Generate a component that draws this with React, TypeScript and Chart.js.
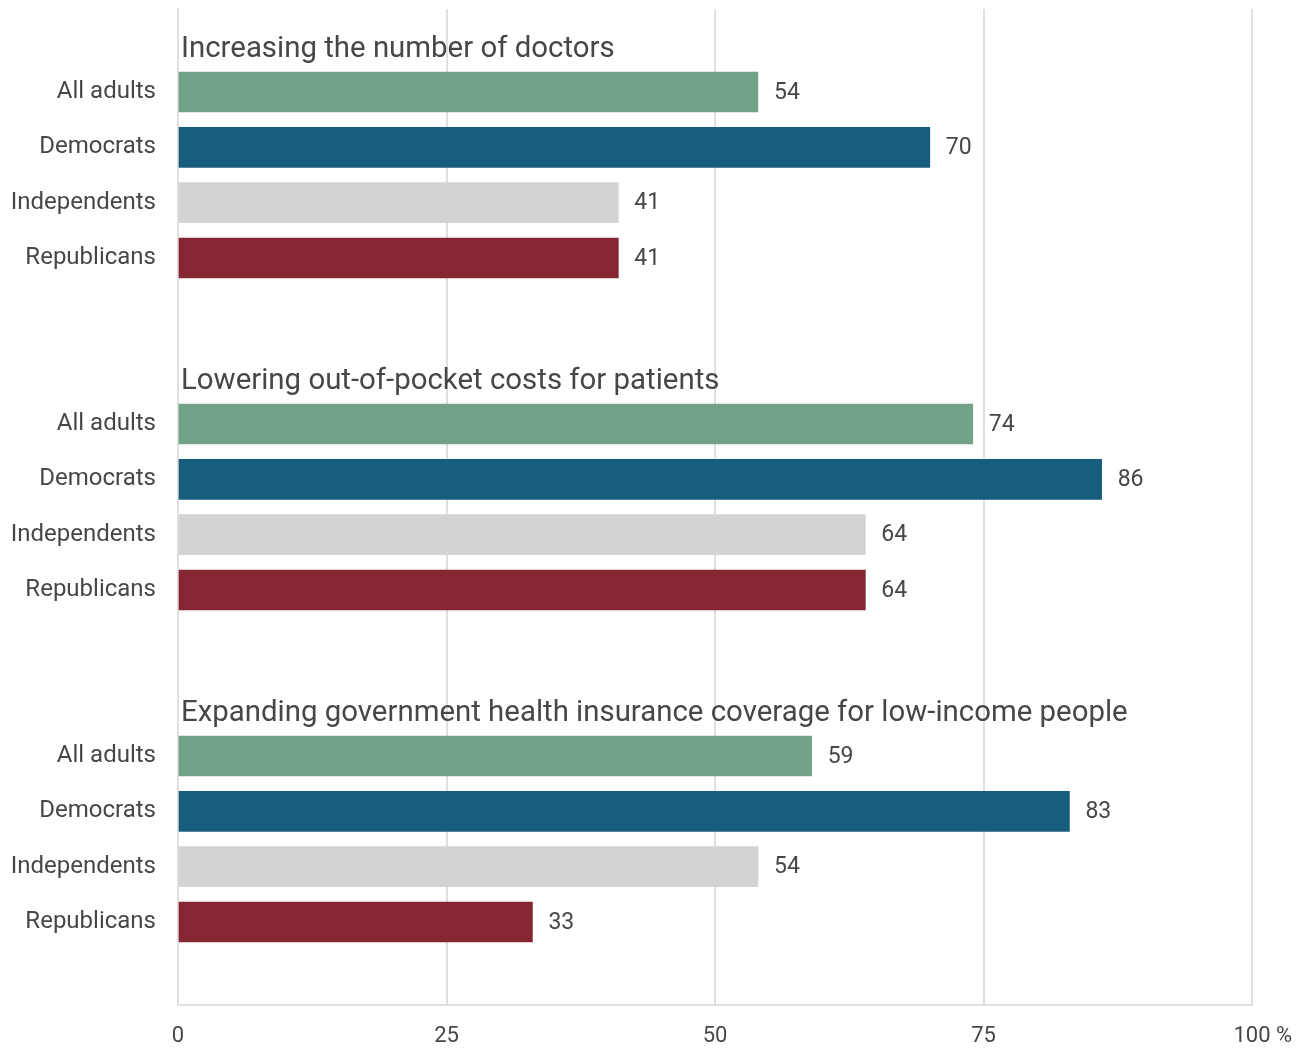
import React, { useEffect, useRef } from "react";
import { Chart, registerables } from "chart.js";

Chart.register(...registerables);

const groupTitles = [
  "Increasing the number of doctors",
  "Lowering out-of-pocket costs for patients",
  "Expanding government health insurance coverage for low-income people",
];
const subgroups = ["All adults", "Democrats", "Independents", "Republicans"];
const subgroupColors = ["#70a288", "#175e7d", "#d3d3d3", "#862633"];
const doctorsValues = [54, 70, 41, 41];
const costsValues = [74, 86, 64, 64];
const coverageValues = [59, 83, 54, 33];
const xTickValues = [0, 25, 50, 75, 100];

const groupValues = [doctorsValues, costsValues, coverageValues];

const TEXT = "#474747";
const GRID = "#e0e0e0";
const FONT = "Roboto";

export default function App() {
  const ref = useRef<HTMLCanvasElement | null>(null);

  useEffect(() => {
    document.body.style.margin = "0";
    const labels: string[] = [];
    const data: (number | null)[] = [];
    const colors: string[] = [];
    const titleIdx: number[] = [];
    groupValues.forEach((vals) => {
      titleIdx.push(labels.length);
      labels.push("");
      data.push(null);
      colors.push("transparent");
      vals.forEach((v, i) => {
        labels.push(subgroups[i]);
        data.push(v);
        colors.push(subgroupColors[i]);
      });
      labels.push("");
      data.push(null);
      colors.push("transparent");
    });

    const overlay = {
      id: "overlay",
      afterDatasetsDraw(chart: any) {
        const ctx = chart.ctx;
        const xs = chart.scales.x;
        const ys = chart.scales.y;
        const area = chart.chartArea;
        ctx.save();
        ctx.fillStyle = TEXT;
        ctx.textBaseline = "middle";
        ctx.textAlign = "left";
        // value labels
        ctx.font = `23px ${FONT}`;
        data.forEach((v, i) => {
          if (v == null) return;
          ctx.fillText(String(v), xs.getPixelForValue(v) + 16, ys.getPixelForValue(i) + 1);
        });
        // group titles
        ctx.font = `29.4px ${FONT}`;
        groupTitles.forEach((t, g) => {
          ctx.fillText(t, xs.left + 3, ys.getPixelForValue(titleIdx[g]) + 13);
        });
        // percent sign
        ctx.font = `22px ${FONT}`;
        ctx.fillText("%", xs.getPixelForValue(100) + 24, area.bottom + 31);
        ctx.restore();
      },
    };

    const chart = new Chart(ref.current!, {
      type: "bar",
      data: {
        labels,
        datasets: [
          {
            data,
            backgroundColor: colors,
            barThickness: 40,
          },
        ],
      },
      options: {
        indexAxis: "y",
        animation: false,
        responsive: false,
        maintainAspectRatio: false,
        layout: { padding: { top: 9, right: 57, left: 0, bottom: 0 } },
        plugins: { legend: { display: false }, tooltip: { enabled: false } },
        scales: {
          x: {
            min: 0,
            max: 100,
            afterBuildTicks: (s: any) => {
              s.ticks = xTickValues.map((v) => ({ value: v }));
            },
            afterFit: (s: any) => {
              s.height = 43;
              s.paddingLeft = 0;
              s.paddingRight = 0;
            },
            ticks: {
              padding: 18,
              color: TEXT,
              font: { family: FONT, size: 22 },
              callback: (v: any) => String(v),
            },
            grid: { color: GRID, lineWidth: 2, drawTicks: false },
            border: { display: true, color: GRID, width: 2 },
          },
          y: {
            afterFit: (s: any) => {
              s.width = 178;
              s.paddingTop = 0;
              s.paddingBottom = 0;
            },
            ticks: {
              padding: 22,
              color: TEXT,
              font: { family: FONT, size: 24 },
              autoSkip: false,
            },
            grid: { display: false, drawTicks: false },
            border: { display: true, color: GRID, width: 2 },
          },
        },
      },
      plugins: [overlay],
    });
    return () => chart.destroy();
  }, []);

  return (
    <div style={{ position: "absolute", left: 0, top: 0, width: 1309, height: 1048 }}>
      <canvas ref={ref} width={1309} height={1048} style={{ display: "block" }} />
    </div>
  );
}
